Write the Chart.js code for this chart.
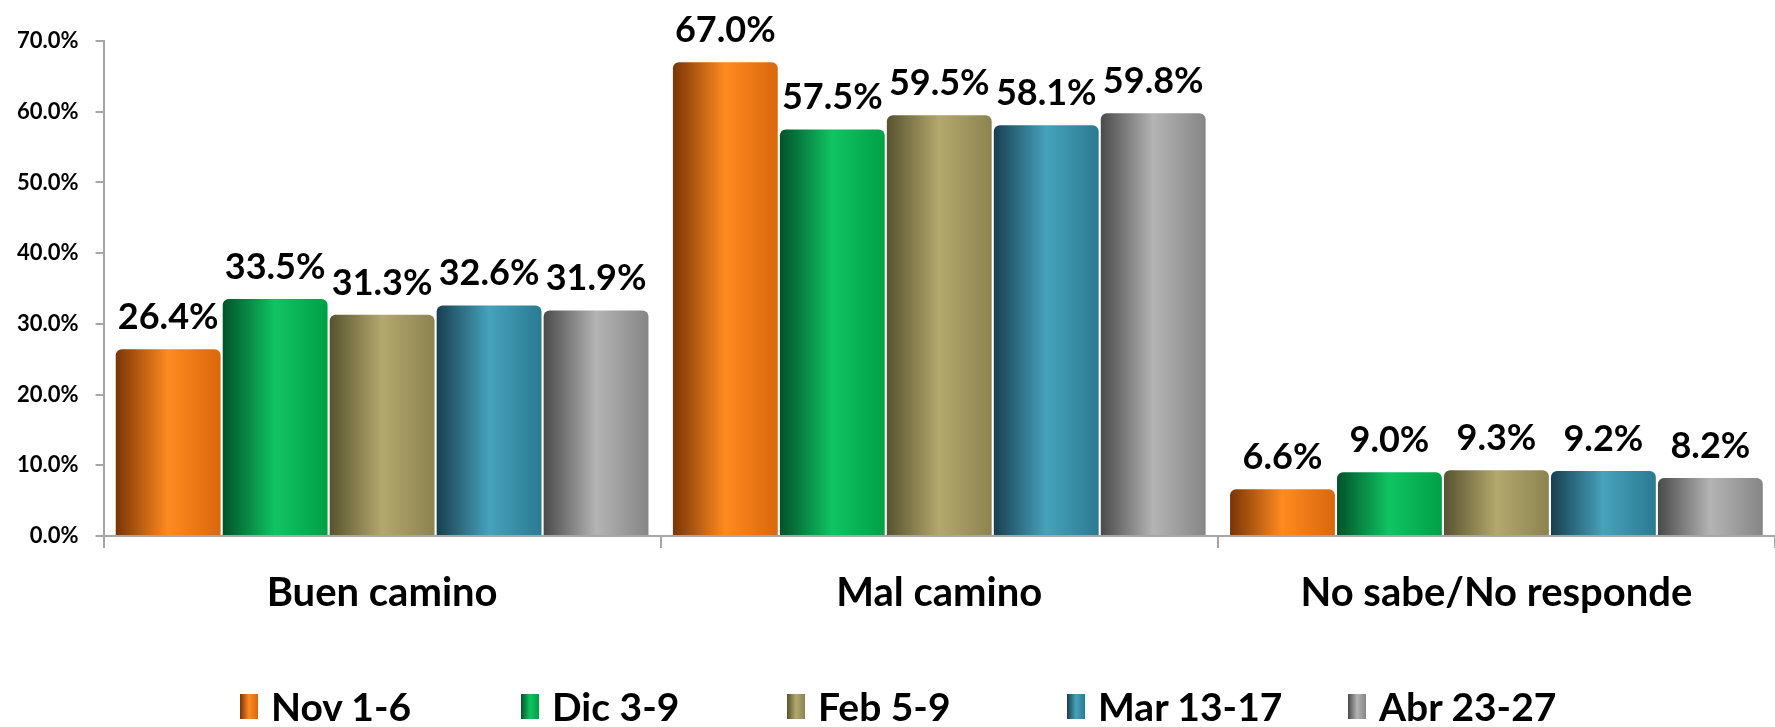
<!DOCTYPE html>
<html>
<head>
<meta charset="utf-8">
<script src="https://cdn.jsdelivr.net/npm/chart.js@4/dist/chart.umd.min.js"></script>
<style>
  body { margin: 0; background: #fff; }
  #wrap { position: relative; width: 1775px; height: 727px; }
  #legend {
    position: absolute; left: 240px; top: 686px;
    display: flex; font-family: Lato, sans-serif; font-weight: bold;
    font-size: 39px; color: #000; line-height: 40px;
  }
  #legend .item { display: flex; align-items: center; white-space: nowrap; }
  #legend .box { width: 18px; height: 25px; margin-right: 13px; }
</style>
</head>
<body>
<div id="wrap">
  <canvas id="surveyChart" width="1775" height="727"></canvas>
  <div id="legend"></div>
</div>
<script>
// Datos del gráfico
const categories = ["Buen camino", "Mal camino", "No sabe/No responde"];
const seriesLabels = ["Nov 1-6", "Dic 3-9", "Feb 5-9", "Mar 13-17", "Abr 23-27"];
const novValues = [26.4, 67.0, 6.6];
const dicValues = [33.5, 57.5, 9.0];
const febValues = [31.3, 59.5, 9.3];
const marValues = [32.6, 58.1, 9.2];
const abrValues = [31.9, 59.8, 8.2];
const yTickValues = [0, 10, 20, 30, 40, 50, 60, 70];

// Colores tipo cilindro: oscuro, brillante, medio
const seriesColors = [
  ["#7a3505", "#ff8a20", "#d9670c"],
  ["#00532a", "#10c462", "#00a046"],
  ["#58532f", "#b3a86d", "#8d8350"],
  ["#183f50", "#46a2bc", "#2a7a92"],
  ["#4a4a4a", "#b4b4b4", "#868686"],
];

const seriesValues = [novValues, dicValues, febValues, marValues, abrValues];

// Ancho de cada elemento de la leyenda (como en Excel)
const legendWidths = [281, 266, 280, 281, 281];

// Plugin: degradado horizontal en cada barra
const barGradient = {
  id: "barGradient",
  beforeDatasetsDraw(chart) {
    const ctx = chart.ctx;
    chart.data.datasets.forEach((ds, i) => {
      const stops = seriesColors[i];
      chart.getDatasetMeta(i).data.forEach((bar) => {
        const left = bar.x - bar.width / 2;
        const grad = ctx.createLinearGradient(left, 0, left + bar.width, 0);
        grad.addColorStop(0, stops[0]);
        grad.addColorStop(0.5, stops[1]);
        grad.addColorStop(1, stops[2]);
        bar.options = Object.assign({}, bar.options, { backgroundColor: grad });
      });
    });
  },
};

// Plugin: etiquetas de valor sobre las barras
const valueLabels = {
  id: "valueLabels",
  afterDatasetsDraw(chart) {
    const ctx = chart.ctx;
    ctx.save();
    ctx.font = "bold 36px Lato";
    ctx.fillStyle = "#000";
    ctx.textAlign = "center";
    ctx.textBaseline = "alphabetic";
    chart.data.datasets.forEach((ds, i) => {
      chart.getDatasetMeta(i).data.forEach((bar, j) => {
        ctx.fillText(ds.data[j].toFixed(1) + "%", bar.x, bar.y - 20);
      });
    });
    ctx.restore();
  },
};

const datasets = seriesLabels.map((label, i) => ({
  label: label,
  data: seriesValues[i],
  backgroundColor: seriesColors[i][1],
  borderWidth: 0,
  borderRadius: { topLeft: 6, topRight: 6 },
  borderSkipped: "bottom",
  categoryPercentage: 0.96,
  barPercentage: 0.98,
}));

new Chart(document.getElementById("surveyChart"), {
  type: "bar",
  data: { labels: categories, datasets: datasets },
  options: {
    responsive: false,
    animation: false,
    layout: { padding: { top: 41, left: 0, right: 0, bottom: 89 } },
    plugins: {
      legend: { display: false },
      tooltip: { enabled: false },
    },
    scales: {
      y: {
        min: 0,
        max: 70,
        afterBuildTicks: (axis) => {
          axis.ticks = yTickValues.map((v) => ({ value: v }));
        },
        ticks: {
          padding: 17,
          color: "#000",
          font: { family: "Lato", weight: "bold", size: 22 },
          callback: (v) => v.toFixed(1) + "%",
        },
        grid: { drawOnChartArea: false, tickLength: 8, color: "#a6a6a6", lineWidth: 2 },
        border: { color: "#a6a6a6", width: 2 },
      },
      x: {
        ticks: {
          padding: 21,
          color: "#000",
          font: { family: "Lato", weight: "bold", size: 40 },
        },
        grid: { offset: true, drawOnChartArea: false, tickLength: 12, color: "#a6a6a6", lineWidth: 2 },
        border: { color: "#a6a6a6", width: 2 },
      },
    },
  },
  plugins: [barGradient, valueLabels],
});

// Leyenda HTML
const legendEl = document.getElementById("legend");
seriesLabels.forEach((label, i) => {
  const c = seriesColors[i];
  const item = document.createElement("div");
  item.className = "item";
  item.style.width = legendWidths[i] + "px";
  item.innerHTML =
    '<span class="box" style="background: linear-gradient(to right,' +
    c[0] + "," + c[1] + "," + c[2] + ')"></span><span>' + label + "</span>";
  legendEl.appendChild(item);
});
</script>
</body>
</html>
